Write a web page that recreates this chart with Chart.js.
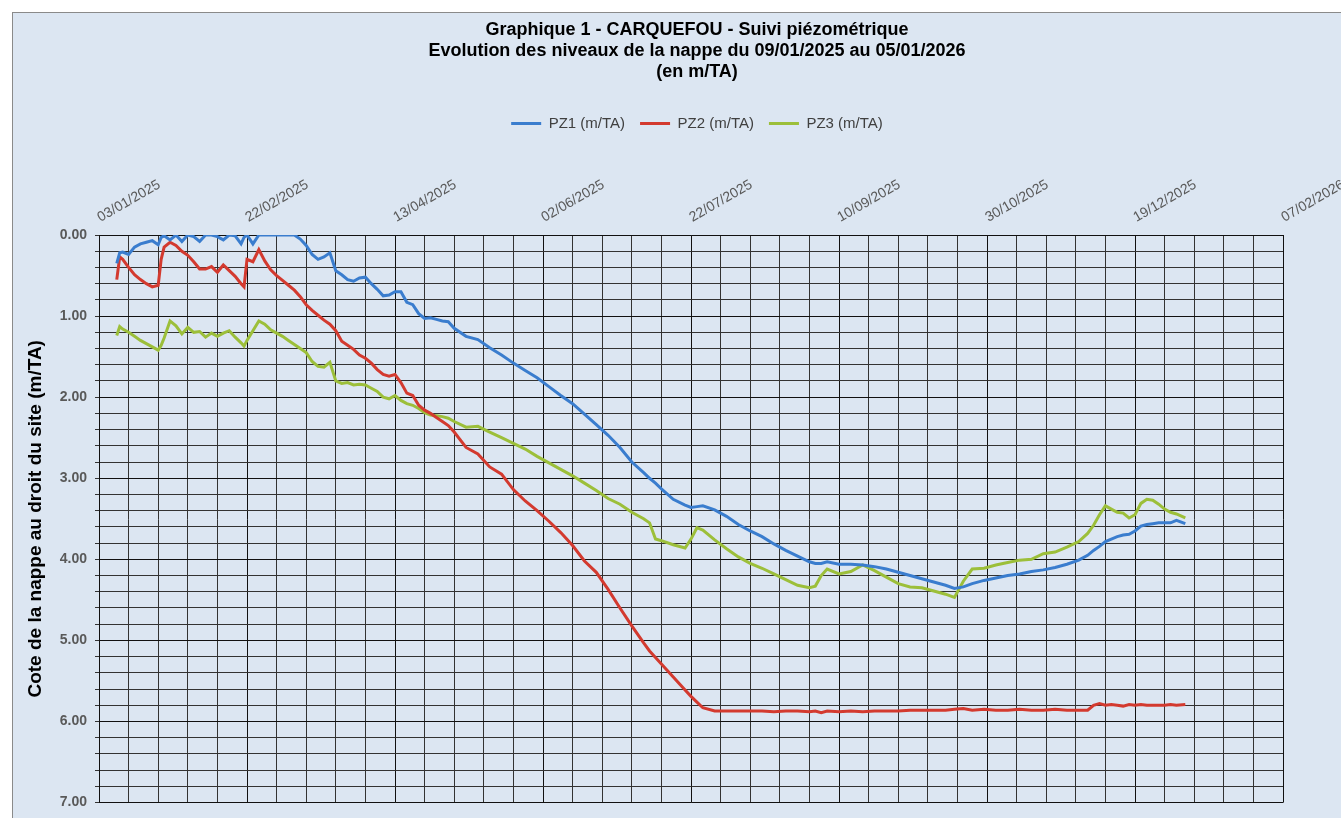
<!DOCTYPE html>
<html lang="fr">
<head>
<meta charset="utf-8">
<title>CARQUEFOU - Suivi piézométrique</title>
<script src="https://cdn.jsdelivr.net/npm/chart.js@4/dist/chart.umd.min.js"></script>
<style>
  html, body { margin: 0; padding: 0; background: #fff; overflow: hidden; }
  #frame {
    position: absolute; left: 12px; top: 12px;
    width: 1368px; height: 806px;
    background: #dce6f2;
    border-top: 1px solid #8a8a8a;
    border-left: 1px solid #8a8a8a;
  }
</style>
</head>
<body>
<div id="frame"><canvas id="chart" width="1368" height="806"></canvas></div>
<script>
// jours depuis le 03/01/2025
const days = [
  6, 7, 8, 10, 12, 14, 16, 18, 20, 21, 22, 24, 26, 28, 30, 32, 34, 36, 38, 40,
  42, 44, 46, 48, 49, 50, 52, 54, 56, 58, 60, 62, 64, 66, 68, 70, 72, 74, 76, 78,
  80, 82, 84, 86, 88, 90, 92, 94, 96, 98, 100, 102, 104, 106, 108, 110, 112, 114, 116, 118,
  120, 124, 128, 132, 136, 140, 144, 148, 152, 156, 160, 164, 168, 172, 176, 180, 184, 186, 188, 190,
  194, 198, 200, 202, 204, 208, 212, 216, 220, 224, 228, 232, 236, 240, 242, 244, 246, 250, 254, 258,
  262, 266, 270, 274, 278, 282, 286, 289, 292, 295, 299, 303, 307, 311, 315, 319, 323, 327, 331, 334,
  336, 338, 340, 342, 344, 346, 348, 350, 352, 354, 356, 358, 360, 362, 364, 367
];

const pz1 = [
  0.35, 0.22, 0.21, 0.24, 0.15, 0.11, 0.09, 0.07, 0.12, 0.03, 0.01, 0.06, 0.00, 0.08, 0.00, 0.02, 0.08, 0.00, 0.00, 0.02,
  0.06, 0.00, 0.01, 0.11, 0.03, 0.00, 0.11, 0.00, 0.00, 0.00, 0.00, 0.00, 0.00, 0.00, 0.05, 0.13, 0.24, 0.30, 0.27, 0.22,
  0.44, 0.49, 0.55, 0.57, 0.53, 0.52, 0.60, 0.67, 0.75, 0.74, 0.70, 0.70, 0.83, 0.86, 0.97, 1.03, 1.02, 1.04, 1.06, 1.07,
  1.15, 1.25, 1.29, 1.39, 1.48, 1.58, 1.67, 1.76, 1.87, 1.98, 2.08, 2.21, 2.34, 2.47, 2.62, 2.80, 2.93, 3.00, 3.06, 3.13,
  3.26, 3.33, 3.36, 3.35, 3.34, 3.39, 3.47, 3.57, 3.65, 3.72, 3.81, 3.89, 3.96, 4.03, 4.05, 4.05, 4.03, 4.06, 4.06, 4.07,
  4.09, 4.12, 4.16, 4.20, 4.24, 4.28, 4.32, 4.36, 4.34, 4.30, 4.26, 4.23, 4.20, 4.18, 4.15, 4.13, 4.10, 4.06, 4.01, 3.95,
  3.89, 3.84, 3.78, 3.75, 3.72, 3.70, 3.69, 3.65, 3.59, 3.57, 3.56, 3.55, 3.55, 3.55, 3.52, 3.56
];

const pz2 = [
  0.55, 0.27, 0.30, 0.40, 0.49, 0.55, 0.60, 0.64, 0.62, 0.30, 0.15, 0.09, 0.13, 0.20, 0.25, 0.33, 0.42, 0.42, 0.39, 0.46,
  0.37, 0.44, 0.51, 0.60, 0.64, 0.30, 0.33, 0.18, 0.32, 0.43, 0.50, 0.56, 0.62, 0.68, 0.76, 0.86, 0.93, 0.99, 1.05, 1.10,
  1.18, 1.31, 1.36, 1.41, 1.48, 1.52, 1.58, 1.66, 1.72, 1.74, 1.72, 1.82, 1.95, 1.98, 2.10, 2.16, 2.20, 2.25, 2.30, 2.35,
  2.43, 2.62, 2.70, 2.86, 2.95, 3.14, 3.28, 3.40, 3.53, 3.67, 3.83, 4.02, 4.16, 4.37, 4.60, 4.82, 5.03, 5.13, 5.21, 5.29,
  5.45, 5.61, 5.69, 5.76, 5.83, 5.87, 5.87, 5.87, 5.87, 5.87, 5.88, 5.87, 5.87, 5.88, 5.87, 5.89, 5.87, 5.88, 5.87, 5.88,
  5.87, 5.87, 5.87, 5.86, 5.86, 5.86, 5.86, 5.85, 5.84, 5.86, 5.85, 5.86, 5.86, 5.85, 5.86, 5.86, 5.85, 5.86, 5.86, 5.86,
  5.80, 5.78, 5.80, 5.79, 5.80, 5.81, 5.79, 5.80, 5.79, 5.80, 5.80, 5.80, 5.80, 5.79, 5.80, 5.79
];

const pz3 = [
  1.24, 1.13, 1.16, 1.20, 1.25, 1.30, 1.34, 1.38, 1.42, 1.36, 1.27, 1.06, 1.12, 1.22, 1.14, 1.20, 1.19, 1.26, 1.21, 1.25,
  1.21, 1.18, 1.26, 1.33, 1.37, 1.30, 1.18, 1.06, 1.10, 1.17, 1.21, 1.25, 1.30, 1.35, 1.40, 1.45, 1.56, 1.62, 1.63, 1.57,
  1.80, 1.83, 1.82, 1.85, 1.84, 1.85, 1.89, 1.93, 2.00, 2.02, 1.98, 2.04, 2.08, 2.10, 2.14, 2.19, 2.22, 2.23, 2.24, 2.26,
  2.30, 2.37, 2.36, 2.43, 2.50, 2.57, 2.64, 2.73, 2.81, 2.89, 2.97, 3.06, 3.15, 3.25, 3.32, 3.42, 3.50, 3.55, 3.75, 3.77,
  3.82, 3.86, 3.75, 3.61, 3.64, 3.76, 3.87, 3.97, 4.05, 4.11, 4.18, 4.25, 4.32, 4.35, 4.33, 4.20, 4.12, 4.18, 4.15, 4.07,
  4.14, 4.22, 4.30, 4.34, 4.35, 4.39, 4.43, 4.47, 4.27, 4.12, 4.11, 4.07, 4.04, 4.01, 4.00, 3.93, 3.91, 3.85, 3.78, 3.68,
  3.58, 3.45, 3.34, 3.38, 3.42, 3.43, 3.49, 3.45, 3.31, 3.26, 3.27, 3.32, 3.38, 3.42, 3.44, 3.49
];

const seriesNames = ['PZ1 (m/TA)', 'PZ2 (m/TA)', 'PZ3 (m/TA)'];
const seriesColors = ['#3a7dce', '#d33a2f', '#9cbf3a'];
const tickLabels = ['03/01/2025', '22/02/2025', '13/04/2025', '02/06/2025', '22/07/2025',
  '10/09/2025', '30/10/2025', '19/12/2025', '07/02/2026'];

const toPoints = vals => vals.map((v, i) => ({ x: days[i], y: v }));

const datasets = [pz1, pz2, pz3].map((vals, i) => ({
  label: seriesNames[i],
  data: toPoints(vals),
  borderColor: seriesColors[i],
  backgroundColor: seriesColors[i],
  borderWidth: 3,
  pointRadius: 0,
  tension: 0
}));

const FONT = '"Liberation Sans", Arial, sans-serif';
const PLOT_TOP = 222;
const isWhole = v => Math.abs(v - Math.round(v)) < 1e-6;

new Chart(document.getElementById('chart').getContext('2d'), {
  type: 'line',
  data: { datasets },
  options: {
    responsive: false,
    animation: false,
    layout: { padding: { left: 0, right: 0, top: 0, bottom: 16 } },
    plugins: {
      title: {
        display: true,
        text: [
          'Graphique 1 - CARQUEFOU - Suivi piézométrique',
          'Evolution des niveaux de la nappe du 09/01/2025 au 05/01/2026',
          '(en m/TA)'
        ],
        color: '#000',
        font: { family: FONT, size: 18, weight: 'bold', lineHeight: 1.1667 },
        padding: { top: 7, bottom: 18 }
      },
      legend: {
        labels: {
          boxWidth: 30,
          boxHeight: 0,
          padding: 15,
          color: '#404040',
          font: { family: FONT, size: 15 }
        }
      },
      tooltip: { enabled: false }
    },
    scales: {
      x: {
        type: 'linear',
        position: 'top',
        min: 0,
        max: 400,
        afterFit: scale => {
          const c = scale.chart;
          const used = (c.titleBlock ? c.titleBlock.height : 0) + (c.legend ? c.legend.height : 0);
          scale.height = PLOT_TOP - used;
        },
        ticks: {
          stepSize: 10,
          autoSkip: false,
          minRotation: 30,
          maxRotation: 30,
          padding: 9,
          labelOffset: 8,
          color: '#595959',
          font: { family: FONT, size: 14 },
          callback: v => (v % 50 === 0 ? tickLabels[v / 50] : '')
        },
        grid: {
          drawTicks: false,
          color: ctx => (ctx.tick && ctx.tick.value % 50 === 0 ? '#111' : '#333'),
          lineWidth: 1
        },
        border: { color: '#111', width: 1 }
      },
      y: {
        reverse: true,
        min: 0,
        max: 7,
        afterFit: scale => { scale.width = 86; },
        title: {
          display: true,
          text: 'Cote de la nappe au droit du site (m/TA)',
          color: '#000',
          font: { family: FONT, size: 19, weight: 'bold', lineHeight: 1.1 },
          padding: { top: 12, bottom: 0 }
        },
        ticks: {
          stepSize: 0.2,
          autoSkip: false,
          padding: 8,
          color: '#595959',
          font: { family: FONT, size: 14, weight: 'bold' },
          callback: v => (isWhole(v) ? v.toFixed(2) : '')
        },
        grid: {
          tickLength: 4,
          tickColor: '#333',
          color: ctx => (ctx.tick && isWhole(ctx.tick.value) ? '#111' : '#333'),
          lineWidth: 1
        },
        border: { color: '#111', width: 1 }
      },
      // marge droite du cadre (zone vide à droite du tracé)
      yRight: {
        position: 'right',
        reverse: true,
        min: 0,
        max: 7,
        afterFit: scale => { scale.width = 98; },
        ticks: { display: false },
        grid: { drawOnChartArea: false, drawTicks: false },
        border: { display: false }
      }
    }
  }
});
</script>
</body>
</html>
